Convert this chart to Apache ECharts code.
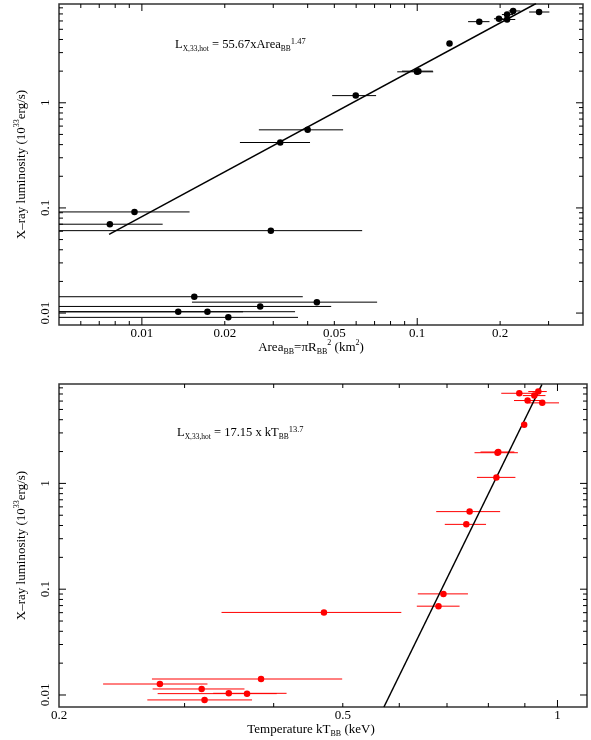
<!DOCTYPE html>
<html><head><meta charset="utf-8">
<script src="https://cdn.jsdelivr.net/npm/echarts@6/dist/echarts.min.js"></script>
<style>html,body{margin:0;padding:0;background:#fff}#c{width:591px;height:740px}</style>
</head><body><div id="c"></div>
<script>
// ---------- Top panel: L_X vs blackbody area ----------
const areaBB  = [0.168, 0.198, 0.212, 0.212, 0.223, 0.277, 0.131, 0.0998, 0.101, 0.0598, 0.040, 0.0318, 0.0094, 0.00765, 0.0294, 0.0155, 0.0432, 0.0269, 0.01355, 0.0173, 0.0206];
const lumTop  = [5.91, 6.3, 6.9, 6.2, 7.47, 7.3, 3.67, 1.97, 2.0, 1.17, 0.553, 0.419, 0.0916, 0.070, 0.0608, 0.0143, 0.0127, 0.01156, 0.01028, 0.0103, 0.0091];
const areaLo  = [0.153, 0.190, 0.203, 0.195, 0.215, 0.255, null, 0.0846, 0.088, 0.0491, 0.0266, 0.0227, 0.004, 0.004, 0.004, 0.004, 0.0152, 0.004, 0.004, 0.004, 0.004];
const areaHi  = [0.183, 0.206, 0.223, 0.227, 0.237, 0.302, null, 0.1143, 0.114, 0.0709, 0.0538, 0.0408, 0.0149, 0.0119, 0.0631, 0.0384, 0.0715, 0.0487, 0.0233, 0.036, 0.0369];
const fitTopX = [0.0076, 0.27];
const fitTopY = [0.056, 8.8];

// ---------- Bottom panel: L_X vs blackbody temperature ----------
const kT     = [0.884, 0.940, 0.928, 0.908, 0.952, 0.898, 0.824, 0.826, 0.821, 0.753, 0.745, 0.692, 0.681, 0.4705, 0.384, 0.277, 0.317, 0.346, 0.367, 0.320];
const lumBot = [7.11, 7.38, 6.76, 6.07, 5.77, 3.58, 1.95, 1.98, 1.14, 0.541, 0.41, 0.0903, 0.0691, 0.0603, 0.01416, 0.0127, 0.0114, 0.01037, 0.0103, 0.00898];
const kTLo   = [0.834, 0.910, 0.894, 0.869, 0.912, null, 0.765, 0.780, 0.771, 0.676, 0.695, 0.637, 0.635, 0.338, 0.270, 0.2306, 0.2706, 0.329, 0.275, 0.266];
const kTHi   = [0.940, 0.966, 0.962, 0.956, 1.005, null, 0.880, 0.870, 0.873, 0.831, 0.794, 0.749, 0.729, 0.604, 0.499, 0.323, 0.364, 0.417, 0.404, 0.373];
const fitBotX = [0.571, 0.951];
const fitBotY = [0.0077, 8.6];

// ---------- Axes ranges and ticks ----------
const AREA_RANGE = [0.005, 0.4];
const KT_RANGE   = [0.2, 1.1];
const LUM_RANGE  = [0.0077, 8.7];

const areaMajor = [0.01, 0.1];
const areaMinor = [0.006, 0.007, 0.008, 0.009, 0.02, 0.03, 0.04, 0.05, 0.06, 0.07, 0.08, 0.09, 0.2, 0.3];
const areaLabelVals = [0.01, 0.02, 0.05, 0.1, 0.2];
const areaLabels = ['0.01', '0.02', '0.05', '0.1', '0.2'];

const lumMajor = [0.01, 0.1, 1];
const lumMinor = [0.02, 0.03, 0.04, 0.05, 0.06, 0.07, 0.08, 0.09, 0.2, 0.3, 0.4, 0.5, 0.6, 0.7, 0.8, 0.9, 2, 3, 4, 5, 6, 7, 8];
const lumLabelVals = [0.01, 0.1, 1];
const lumLabels = ['0.01', '0.1', '1'];

const kTMajor = [1];
const kTMinor = [0.3, 0.4, 0.5, 0.6, 0.7, 0.8, 0.9];
const kTLabelVals = [0.2, 0.5, 1];
const kTLabels = ['0.2', '0.5', '1'];

const FONT = '"Liberation Serif", "Times New Roman", serif';

function tickSeries(g, dim, values, len, other) {
  return {
    type: 'custom', xAxisIndex: g, yAxisIndex: g, silent: true, z: 4,
    data: values.map(v => [v, v]),
    renderItem: function (params, api) {
      const v = api.value(0);
      const st = { stroke: '#000', lineWidth: 1 };
      if (dim === 'x') {
        const a = api.coord([v, other[0]]), b = api.coord([v, other[1]]);
        return { type: 'group', children: [
          { type: 'line', shape: { x1: a[0], y1: a[1], x2: a[0], y2: a[1] - len }, style: st },
          { type: 'line', shape: { x1: b[0], y1: b[1], x2: b[0], y2: b[1] + len }, style: st }
        ]};
      } else {
        const a = api.coord([other[0], v]), b = api.coord([other[1], v]);
        return { type: 'group', children: [
          { type: 'line', shape: { x1: a[0], y1: a[1], x2: a[0] + len, y2: a[1] }, style: st },
          { type: 'line', shape: { x1: b[0], y1: b[1], x2: b[0] - len, y2: b[1] }, style: st }
        ]};
      }
    }
  };
}

function labelSeries(g, dim, values, texts, other, off) {
  return {
    type: 'custom', xAxisIndex: g, yAxisIndex: g, silent: true, z: 4,
    data: values.map(v => [v, v]),
    renderItem: function (params, api) {
      const v = api.value(0);
      const style = { text: texts[params.dataIndex], fill: '#000', font: '13px ' + FONT, align: 'center', verticalAlign: 'middle' };
      if (dim === 'x') {
        const p = api.coord([v, other[0]]);
        return { type: 'text', x: p[0], y: p[1] + off, style: style };
      } else {
        const p = api.coord([other[0], v]);
        return { type: 'text', x: p[0] - off, y: p[1], rotation: Math.PI / 2, style: style };
      }
    }
  };
}

function errSeries(g, xs, ys, lo, hi, color) {
  return {
    type: 'custom', xAxisIndex: g, yAxisIndex: g, clip: true, silent: true, z: 2,
    data: xs.map((x, i) => [x, ys[i], lo[i], hi[i]]),
    encode: { x: 0, y: 1 },
    renderItem: function (params, api) {
      const lv = api.value(2), hv = api.value(3);
      if (!(lv > 0) || !(hv > 0)) return null;
      const y = api.value(1);
      const a = api.coord([lv, y]), b = api.coord([hv, y]);
      return { type: 'line', shape: { x1: a[0], y1: a[1], x2: b[0], y2: b[1] }, style: { stroke: color, lineWidth: 1 } };
    }
  };
}

const nameRich = {
  m: { fontFamily: FONT, fontSize: 13, color: '#000', lineHeight: 17, verticalAlign: 'middle' },
  s: { fontFamily: FONT, fontSize: 8, color: '#000', lineHeight: 8, verticalAlign: 'bottom' },
  p: { fontFamily: FONT, fontSize: 8, color: '#000', lineHeight: 8, verticalAlign: 'top' }
};
const annRich = {
  m: { fontFamily: FONT, fontSize: 12.5, fill: '#000', lineHeight: 16, verticalAlign: 'middle' },
  s: { fontFamily: FONT, fontSize: 7.5, fill: '#000', lineHeight: 7, verticalAlign: 'bottom' },
  p: { fontFamily: FONT, fontSize: 8.5, fill: '#000', lineHeight: 9, verticalAlign: 'top' }
};

function logAxis(g, range, name, gap, pad) {
  return {
    gridIndex: g, type: 'log', logBase: 10, min: range[0], max: range[1],
    axisLine: { show: false }, axisTick: { show: false }, axisLabel: { show: false }, splitLine: { show: false },
    name: name, nameLocation: 'middle', nameGap: gap,
    nameTextStyle: { fontFamily: FONT, fontSize: 13, color: '#000', rich: nameRich, padding: pad }
  };
}

const yName = '{m|X–ray luminosity (10}{p|33}{m|erg/s)}';

const option = {
  backgroundColor: '#fff',
  animation: false,
  grid: [
    { left: 59, top: 4, width: 524, height: 321, show: true, borderColor: '#333', borderWidth: 1.5, backgroundColor: 'transparent' },
    { left: 59, top: 384, width: 528, height: 323, show: true, borderColor: '#333', borderWidth: 1.5, backgroundColor: 'transparent' }
  ],
  xAxis: [
    logAxis(0, AREA_RANGE, '{m|Area}{s|BB}{m|=πR}{s|BB}{p|2}{m| (km}{p|2}{m|)}', 14, [0, 20, 0, 0]),
    logAxis(1, KT_RANGE, '{m|Temperature kT}{s|BB}{m| (keV)}', 14, [0, 24, 0, 0])
  ],
  yAxis: [
    logAxis(0, LUM_RANGE, yName, 29, 0),
    logAxis(1, LUM_RANGE, yName, 29, 0)
  ],
  graphic: [
    { type: 'text', x: 175, y: 45, z: 10, style: { text: '{m|L}{s|X,33,hot}{m| = 55.67xArea}{s|BB}{p|1.47}', rich: annRich, verticalAlign: 'middle' } },
    { type: 'text', x: 177, y: 433, z: 10, style: { text: '{m|L}{s|X,33,hot}{m| = 17.15 x kT}{s|BB}{p|13.7}', rich: annRich, verticalAlign: 'middle' } }
  ],
  series: [
    tickSeries(0, 'x', areaMajor, 7, LUM_RANGE),
    tickSeries(0, 'x', areaMinor, 4, LUM_RANGE),
    tickSeries(0, 'y', lumMajor, 7, AREA_RANGE),
    tickSeries(0, 'y', lumMinor, 4, AREA_RANGE),
    labelSeries(0, 'x', areaLabelVals, areaLabels, LUM_RANGE, 9),
    labelSeries(0, 'y', lumLabelVals, lumLabels, AREA_RANGE, 13),
    tickSeries(1, 'x', kTMajor, 7, LUM_RANGE),
    tickSeries(1, 'x', kTMinor, 4, LUM_RANGE),
    tickSeries(1, 'y', lumMajor, 7, KT_RANGE),
    tickSeries(1, 'y', lumMinor, 4, KT_RANGE),
    labelSeries(1, 'x', kTLabelVals, kTLabels, LUM_RANGE, 9),
    labelSeries(1, 'y', lumLabelVals, lumLabels, KT_RANGE, 13),

    errSeries(0, areaBB, lumTop, areaLo, areaHi, '#000'),
    { type: 'scatter', xAxisIndex: 0, yAxisIndex: 0, symbol: 'circle', symbolSize: 6.5, z: 3,
      itemStyle: { color: '#000', opacity: 1 }, data: areaBB.map((a, i) => [a, lumTop[i]]) },
    { type: 'line', xAxisIndex: 0, yAxisIndex: 0, showSymbol: false, symbol: 'none', z: 3, clip: true,
      lineStyle: { color: '#000', width: 1.5 }, data: fitTopX.map((x, i) => [x, fitTopY[i]]) },

    errSeries(1, kT, lumBot, kTLo, kTHi, '#ff0000'),
    { type: 'scatter', xAxisIndex: 1, yAxisIndex: 1, symbol: 'circle', symbolSize: 6.5, z: 3,
      itemStyle: { color: '#ff0000', opacity: 1 }, data: kT.map((t, i) => [t, lumBot[i]]) },
    { type: 'line', xAxisIndex: 1, yAxisIndex: 1, showSymbol: false, symbol: 'none', z: 3, clip: true,
      lineStyle: { color: '#000', width: 1.5 }, data: fitBotX.map((x, i) => [x, fitBotY[i]]) }
  ]
};

const chart = echarts.init(document.getElementById('c'), null, { renderer: 'canvas' });
chart.setOption(option);
</script>
</body></html>
